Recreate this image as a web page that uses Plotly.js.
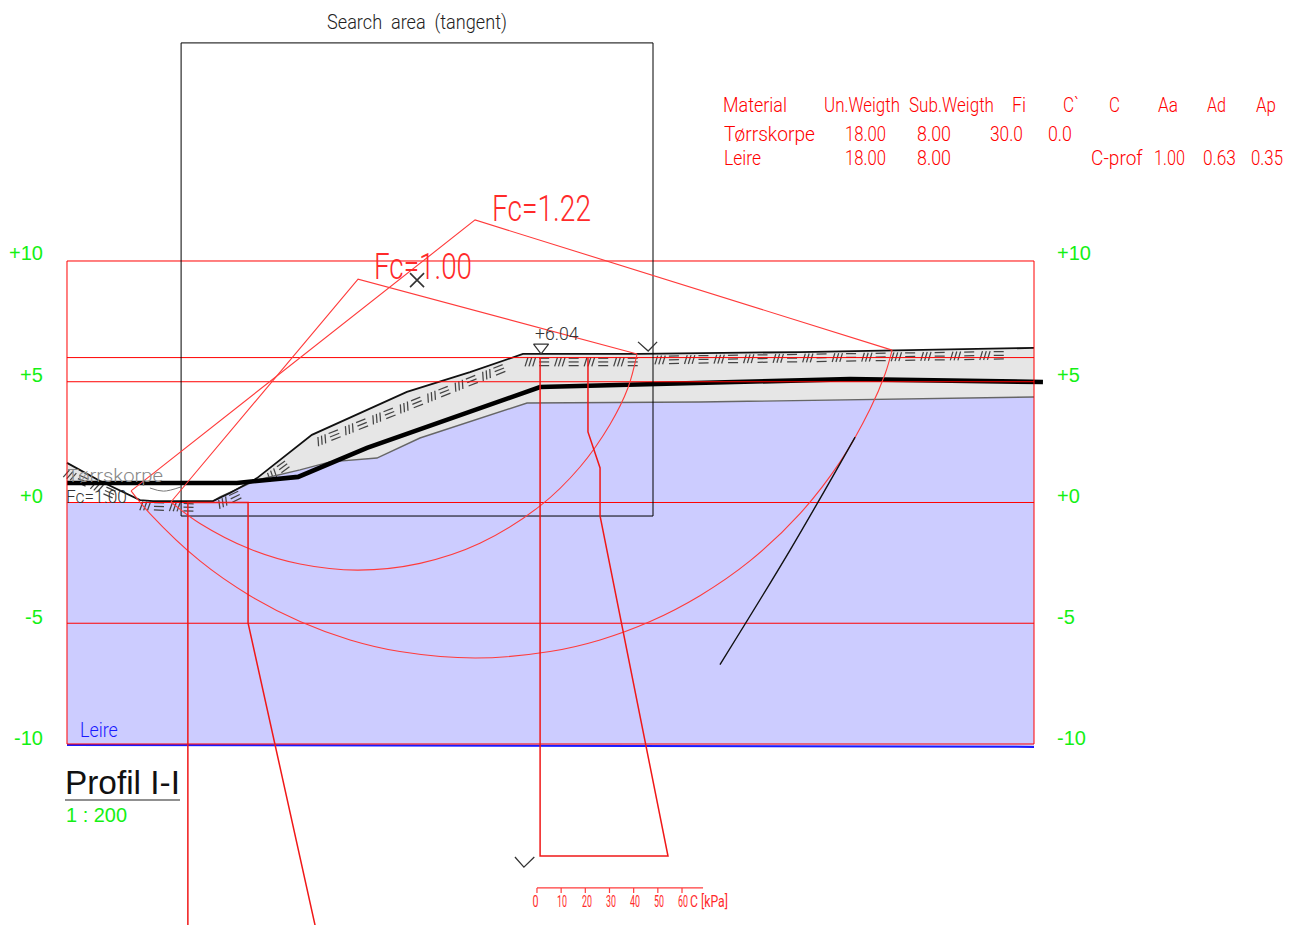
<!DOCTYPE html>
<html><head><meta charset="utf-8">
<script src="https://cdn.plot.ly/plotly-3.0.1.min.js"></script>
<style>html,body{margin:0;padding:0;background:#fff}#c{width:1293px;height:925px}</style>
</head><body><div id="c"></div>
<script>
// ---- Cross-section geometry, metres (x along profile, y elevation) ----
const surfaceX = [0,1.37,3.02,3.56,6.04,6.74,7.86,10.13,14.06,16.67,18.86,23.70,30.32,40];
const surfaceY = [1.64,0.89,0.10,0.06,0.06,0.39,1.01,2.80,4.58,5.40,6.15,6.15,6.23,6.40];
const crustBaseX = [6.04,6.33,7.86,9.64,10.88,12.82,14.60,15.84,19.03,26.18,34.46,40];
const crustBaseY = [0.06,0.23,0.93,1.35,1.68,1.84,2.67,3.08,4.12,4.16,4.29,4.37];
const clayLeftX = [0,3.02,3.56];
const clayLeftY = [0,0,0.02];
const clayBottomX = [40,0];
const clayBottomY = [-10.12,-10.04];
const waterX = [0,7.03,9.56,12.41,19.57,26.18,32.39,40.37];
const waterY = [0.81,0.81,1.06,2.26,4.78,4.95,5.11,4.99];
const gridLevels = [10,6,5,0,-5,-10];
const searchX = [4.72,24.24,24.24,4.72,4.72];
const searchY = [19.03,19.03,-0.56,-0.56,19.03];
// slip circles
const arc100X = [4.30,5.50,7.57,9.64,12.04,14.60,17.08,19.57,21.22,22.46,23.21,23.58];
const arc100Y = [0.02,-0.87,-1.93,-2.55,-2.80,-2.52,-1.69,-0.14,1.47,3.23,4.76,6.15];
const radius100X = [4.30,12.04,23.58];
const radius100Y = [0.02,9.25,6.15];
const arc122X = [2.65,3.43,5.50,7.57,9.64,11.71,13.77,16.88,19.98,22.05,24.12,26.18,28.25,30.32,31.98,33.22,33.84,34.13];
const arc122Y = [0.48,-0.46,-2.42,-3.86,-4.93,-5.69,-6.17,-6.44,-6.17,-5.69,-4.93,-3.86,-2.42,-0.46,1.68,3.87,5.32,6.31];
const radius122X = [2.65,16.88,34.13];
const radius122Y = [0.48,11.70,6.31];
// C profiles
const cProfileAX = [5.00,5.00,7.49,7.49,10.26];
const cProfileAY = [-17.5,0,0,-4.99,-17.5];
const cProfileBX = [21.55,21.55,22.05,22.05,24.86,19.57,19.57];
const cProfileBY = [6.02,2.92,1.43,-0.56,-14.64,-14.64,6.02];
const crackX = [27.01,29.91,32.60];
const crackY = [-6.71,-1.97,2.71];
const pondX = [3.43,3.99,4.70];
const pondY = [0.60,0.47,0.64];
// section marks
const chevronTopX = [23.62,24.04,24.41];
const chevronTopY = [6.65,6.27,6.65];
const chevronBottomX = [18.53,18.90,19.33];
const chevronBottomY = [-14.68,-15.10,-14.68];
// C scale
const cScaleTicks = [0,10,20,30,40,50,60];
// hatch runs along the dry crust [x0,y0,x1,y1]
const hatchRuns = [
  [-0.08,1.22,3.02,-0.14],[3.02,-0.14,6.00,-0.23],[6.25,-0.10,8.07,0.77],
  [8.31,1.01,9.72,2.05],[10.34,2.50,18.61,5.78],[18.95,5.82,23.58,5.82],[24.32,5.90,39.83,6.11]
];
// ---- Text ----
const tableHeader = ["Material","Un.Weigth","Sub.Weigth","Fi","C`","C","Aa","Ad","Ap"];
const tableHeaderPx = [722,823,908,1011,1062,1108,1157,1206,1255];
const tableHeaderW = [64,76,85,14,16,11,20,19,20];
const rowCrust = ["Tørrskorpe","18.00","8.00","30.0","0.0"];
const rowCrustPx = [723,844,916,989,1047];
const rowCrustW = [91,41,34,33,24];
const rowClay = ["Leire","18.00","8.00","C-prof","1.00","0.63","0.35"];
const rowClayPx = [723,844,916,1090,1153,1202,1250];
const rowClayW = [37,41,34,52,31,33,32];
const levelLabels = ["+10","+5","+0","-5","-10"];
const levelLabelY = [253,375,496,617,738];
const scaleLabelPx = [535,562,587,611,635,659,683];

// ---- Scales: 1 m = 24.175 px horizontally, 24.15 px vertically ----
const xRange = [-2.771,50.713], yRange = [-17.495,20.807];
const RED = '#ff0000', ARC = '#ff3b3b', GREEN = '#14f014', CAD = 'Roboto,"Liberation Sans",sans-serif', ARIAL='"Liberation Sans",sans-serif';
const line = (x,y,color,width,extra) => ({x,y,mode:'lines',type:'scatter',line:Object.assign({color,width},extra||{})});
const rev = a => a.slice().reverse();

function hatchTrace(){
  const hx=[],hy=[]; const u=1/24.15, step=29.5*u;
  hatchRuns.forEach(([x0,y0,x1,y1])=>{
    const L=Math.hypot(x1-x0,y1-y0), ax=(x1-x0)/L, ay=(y1-y0)/L, nx=-ay, ny=ax;
    const P=(s,a,v)=>[x0+ax*(s+a*u)+nx*v*u, y0+ay*(s+a*u)+ny*v*u];
    const seg=(s,a0,v0,a1,v1)=>{const p=P(s,a0,v0),q=P(s,a1,v1);hx.push(p[0],q[0],null);hy.push(p[1],q[1],null);};
    for(let s=0;s+24*u<=L+0.05;s+=step){
      [0,3.8,7.6].forEach(a=>seg(s,a,-4.4,a+2.8,4.4));
      [-3.7,0,3.7].forEach(v=>seg(s,14,v,24,v));
    }
  });
  return line(hx,hy,'#444444',1.25);
}
const scaleBase=19.44;
const scaleX=[scaleBase,26.31], scaleY=[-15.96,-15.96];
const tickX=[],tickY=[];
cScaleTicks.forEach(c=>{const t=scaleBase+c/10;tickX.push(t,t,null);tickY.push(-15.96,-16.17,null);});

const traces=[
  Object.assign(line(clayLeftX.concat(crustBaseX,clayBottomX),clayLeftY.concat(crustBaseY,clayBottomY),'rgba(0,0,0,0)',0),{fill:'toself',fillcolor:'#ccccff'}),
  Object.assign(line(surfaceX.slice(3).concat(rev(crustBaseX)),surfaceY.slice(3).concat(rev(crustBaseY)),'rgba(0,0,0,0)',0),{fill:'toself',fillcolor:'#e6e6e6'}),
  Object.assign(line([0,1.37,0],[1.64,0.89,0.81],'rgba(0,0,0,0)',0),{fill:'toself',fillcolor:'#e6e6e6'}),
  hatchTrace(),
  line(crustBaseX,crustBaseY,'#666666',1.4),
  line(clayBottomX,clayBottomY,'#1a1aff',2),
  line(pondX,pondY,'#777777',1,{shape:'spline'}),
  line(surfaceX,surfaceY,'#111111',1.8),
  line(waterX,waterY,'#000000',4.6),
  line([0,0],[-10,10],RED,1),
  line([40,40],[-10,10],RED,1),
].concat(gridLevels.map(l=>line([0,40],[l,l],RED,1)),[
  line(searchX,searchY,'#000000',1),
  line(arc100X,arc100Y,ARC,1.1,{shape:'spline'}),
  line(radius100X,radius100Y,ARC,1.1),
  line(arc122X,arc122Y,ARC,1.1,{shape:'spline'}),
  line(radius122X,radius122Y,ARC,1.1),
  line(cProfileAX,cProfileAY,'#f01818',1.5),
  line(cProfileBX,cProfileBY,'#f01818',1.5),
  line(crackX,crackY,'#111111',1.4,{shape:'spline'}),
  line(chevronTopX,chevronTopY,'#333333',1.3),
  line(chevronBottomX,chevronBottomY,'#333333',1.3),
  line(scaleX,scaleY,ARC,1.2),
  line(tickX,tickY,ARC,1.2),
  {x:[19.61],y:[6.42],mode:'markers',type:'scatter',marker:{symbol:'triangle-down-open',size:13,color:'#333333',line:{width:1.2,color:'#333333'}}},
  {x:[14.48],y:[9.21],mode:'markers',type:'scatter',marker:{symbol:'x-thin-open',size:14,color:'#333333',line:{width:1.6,color:'#333333'}}},
]);

const pxX=x=>x/1293, pxY=y=>1-y/925;
const fitWidths=[];
const T=(text,x,y,size,color,w,opt)=>{
  const o=opt||{};
  fitWidths.push(w?{w,anchor:o.anchor||'left'}:null);
  return {text,xref:'paper',yref:'paper',x:pxX(x),y:pxY(y),showarrow:false,
  xanchor:o.anchor||'left',yanchor:'middle',borderpad:0,
  font:{size,color,family:o.family||CAD,weight:o.weight||300}};
};
const ann=[];
tableHeader.forEach((t,i)=>ann.push(T(t,tableHeaderPx[i],105,20,RED,tableHeaderW[i])));
rowCrust.forEach((t,i)=>ann.push(T(t,rowCrustPx[i],134,20,RED,rowCrustW[i])));
rowClay.forEach((t,i)=>ann.push(T(t,rowClayPx[i],158,20,RED,rowClayW[i])));
levelLabels.forEach((t,i)=>{
  ann.push(T(t,44,levelLabelY[i],20,GREEN,0,{family:ARIAL,anchor:'right',weight:400}));
  ann.push(T(t,1056,levelLabelY[i],20,GREEN,0,{family:ARIAL,weight:400}));
});
ann.push(T("Search\u00a0 area\u00a0 (tangent)",326,22,21,'#222222',180));
ann.push(T("Fc=1.22",491,208,37,'#ff2a2a',99,{weight:300}));
ann.push(T("Fc=1.00",373,267,37,'#ff2a2a',98,{weight:300}));
ann.push(T("+6.04",534,333,19,'#333333',44));
ann.push(T("Tørrskorpe",66,476,18,'#888888',96));
ann.push(T("Fc=1.00",65,497,18,'#333333',61));
ann.push(T("Leire",79,730,21,'#1a1aff',38));
ann.push(T("Profil I-I",64,782,34,'#111111',115,{family:ARIAL,weight:400}));
ann.push(T("1 : 200",65,815,20,GREEN,61,{family:ARIAL,weight:400}));
cScaleTicks.forEach((c,i)=>ann.push(T(String(c),scaleLabelPx[i],901,16,'#ff2a2a',c?10:6,{anchor:'center',weight:400})));
ann.push(T("C [kPa]",689,901,16,'#ff2a2a',38,{weight:400}));

const shapes=[{type:'line',xref:'paper',yref:'paper',x0:pxX(65),x1:pxX(180),y0:pxY(800),y1:pxY(800),line:{color:'#222222',width:1.2}}];

Plotly.newPlot('c',traces,{
  width:1293,height:925,margin:{l:0,r:0,t:0,b:0,pad:0},showlegend:false,hovermode:false,
  paper_bgcolor:'#fff',plot_bgcolor:'#fff',
  xaxis:{range:xRange,visible:false,fixedrange:true},
  yaxis:{range:yRange,visible:false,fixedrange:true},
  annotations:ann,shapes:shapes
},{displayModeBar:false,staticPlot:true}).then(()=>{
  // condense the text to the narrow CAD lettering, keeping it as real text
  document.querySelectorAll('#c .annotation').forEach(g=>{
    const f=fitWidths[+g.getAttribute('data-index')];
    const t=g.querySelector('text');
    if(!f||!t) return;
    const b=t.getBBox();
    const k=f.w/b.width;
    const a=f.anchor==='center'?b.x+b.width/2:b.x;
    t.setAttribute('transform','translate('+a+',0) scale('+k+',1) translate('+(-a)+',0)');
  });
});
</script></body></html>
